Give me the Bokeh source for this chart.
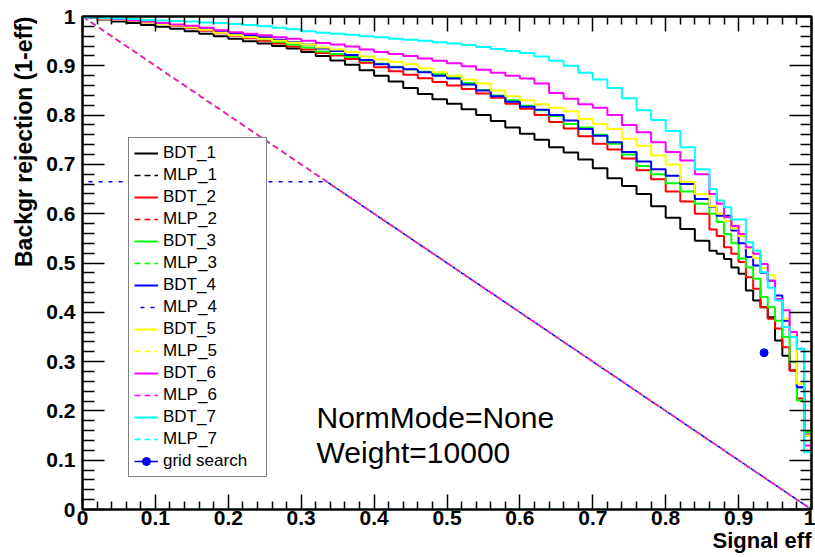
from bokeh.plotting import figure
from bokeh.models import Range1d, LinearAxis, FixedTicker, Legend, LegendItem, Label, Title
from bokeh.embed import file_html
from bokeh.resources import INLINE

# ---------------- data ----------------
BIN_LEFT = [0.00, 0.02, 0.04, 0.06, 0.08, 0.10, 0.12, 0.14, 0.16, 0.18,
            0.20, 0.22, 0.24, 0.26, 0.28, 0.30, 0.32, 0.34, 0.36, 0.38,
            0.40, 0.42, 0.44, 0.46, 0.48, 0.50, 0.52, 0.54, 0.56, 0.58,
            0.60, 0.62, 0.64, 0.66, 0.68, 0.70, 0.72, 0.74, 0.76, 0.78,
            0.80, 0.82, 0.84,
            0.86, 0.87, 0.88, 0.89, 0.90, 0.91, 0.92, 0.93, 0.94, 0.95, 0.96, 0.97, 0.98, 0.99]
X_END = 1.0

BDT_1 = [.998, .994, .990, .987, .983, .979, .975, .970, .965, .960,
         .955, .950, .945, .940, .935, .928, .920, .911, .902, .891,
         .880, .868, .855, .843, .832, .823, .812, .800, .788, .775,
         .762, .750, .735, .724, .710, .692, .672, .656, .640, .615,
         .592, .569, .545,
         .525, .519, .508, .491, .478, .444, .424, .410, .390, .343, .312, .282, .248, .157]
BDT_2 = [.998, .995, .993, .991, .988, .985, .981, .976, .971, .966,
         .961, .956, .951, .945, .939, .933, .926, .921, .914, .906,
         .897, .889, .882, .875, .867, .860, .853, .844, .835, .823,
         .813, .800, .786, .773, .757, .742, .730, .712, .688, .670,
         .645, .625, .600,
         .568, .555, .532, .519, .502, .471, .448, .410, .387, .367, .329, .282, .225, .152]
BDT_3 = [.998, .996, .994, .992, .989, .986, .983, .978, .974, .969,
         .964, .959, .954, .949, .943, .937, .929, .924, .918, .911,
         .904, .898, .893, .888, .883, .877, .865, .851, .840, .830,
         .819, .810, .798, .782, .775, .760, .742, .720, .697, .680,
         .662, .645, .620,
         .600, .583, .559, .540, .509, .491, .468, .431, .410, .383, .350, .299, .221, .157]
BDT_4 = [.998, .996, .994, .992, .989, .986, .983, .979, .975, .970,
         .966, .962, .958, .953, .948, .943, .935, .930, .922, .912,
         .903, .897, .893, .887, .880, .874, .862, .850, .838, .827,
         .817, .811, .800, .789, .772, .758, .745, .725, .706, .690,
         .677, .660, .630,
         .614, .596, .596, .566, .540, .512, .495, .480, .464, .434, .383, .350, .248, .150]
BDT_5 = [.998, .995, .993, .991, .988, .985, .982, .978, .973, .967,
         .962, .958, .955, .951, .947, .943, .937, .933, .928, .919,
         .913, .908, .903, .895, .887, .880, .872, .864, .850, .838,
         .830, .822, .815, .808, .792, .782, .772, .752, .738, .718,
         .700, .665, .640,
         .615, .600, .585, .570, .555, .530, .510, .490, .475, .424, .387, .351, .255, .150]
BDT_6 = [.998, .996, .994, .992, .990, .987, .984, .981, .977, .972,
         .968, .965, .962, .958, .955, .951, .946, .943, .939, .933,
         .928, .924, .920, .915, .910, .905, .899, .892, .886, .880,
         .874, .864, .845, .833, .822, .815, .800, .780, .765, .745,
         .725, .708, .680,
         .640, .620, .593, .575, .559, .532, .519, .498, .464, .427, .404, .360, .326, .130]
BDT_7 = [.998, .997, .996, .995, .993, .992, .991, .990, .988, .987,
         .985, .983, .980, .977, .974, .970, .967, .965, .963, .960,
         .958, .955, .953, .951, .948, .945, .942, .938, .934, .930,
         .926, .919, .910, .900, .886, .872, .855, .834, .810, .790,
         .768, .735, .690,
         .650, .627, .613, .588, .588, .542, .525, .481, .450, .424, .370, .350, .326, .116]

MLP_DIAG_X = [0.0, 1.0]
MLP_DIAG_Y = [1.0, 0.0]
MLP_4_X = [0.0, 0.335, 1.0]
MLP_4_Y = [0.665, 0.665, 0.0]
MLP_7_X = [0.0, 1.0]
MLP_7_Y = [0.0, 0.0]

GRID_X = [0.935]
GRID_Y = [0.318]

TICKS = [0.0, 0.1, 0.2, 0.3, 0.4, 0.5, 0.6, 0.7, 0.8, 0.9, 1.0]
TICK_LABELS = ["0", "0.1", "0.2", "0.3", "0.4", "0.5", "0.6", "0.7", "0.8", "0.9", "1"]
MINOR_TICKS = [0.02, 0.04, 0.06, 0.08, 0.12, 0.14, 0.16, 0.18, 0.22, 0.24, 0.26, 0.28,
               0.32, 0.34, 0.36, 0.38, 0.42, 0.44, 0.46, 0.48, 0.52, 0.54, 0.56, 0.58,
               0.62, 0.64, 0.66, 0.68, 0.72, 0.74, 0.76, 0.78, 0.82, 0.84, 0.86, 0.88,
               0.92, 0.94, 0.96, 0.98]

NAMES = ["BDT_1", "MLP_1", "BDT_2", "MLP_2", "BDT_3", "MLP_3", "BDT_4", "MLP_4",
         "BDT_5", "MLP_5", "BDT_6", "MLP_6", "BDT_7", "MLP_7", "grid search"]
COLORS = ["#000000", "#ff0000", "#00ff00", "#0000ff", "#ffff00", "#ff00ff", "#00ffff"]

FONT = "Liberation Sans"

# ---------------- figure ----------------
p = figure(width=815, height=557, output_backend="svg", toolbar_location=None,
           x_range=Range1d(0, 1), y_range=Range1d(0, 1),
           min_border_left=82, min_border_right=4, min_border_top=16, min_border_bottom=48)
p.xgrid.visible = False
p.ygrid.visible = False
p.outline_line_color = "black"
p.outline_line_width = 2
p.background_fill_color = "white"
p.border_fill_color = "white"

ticker = FixedTicker(ticks=TICKS, minor_ticks=MINOR_TICKS)
overrides = {t: s for t, s in zip(TICKS, TICK_LABELS)}
blank = {t: "" for t in TICKS}


def style_axis(ax, major_in, minor_in, labels=True):
    ax.ticker = ticker
    ax.axis_line_width = 2
    ax.major_tick_in = major_in
    ax.major_tick_out = 0
    ax.minor_tick_in = minor_in
    ax.minor_tick_out = 0
    ax.major_tick_line_width = 1.5
    ax.minor_tick_line_width = 1.5
    if labels:
        ax.major_label_overrides = overrides
        ax.major_label_text_font = FONT
        ax.major_label_text_font_style = "bold"
        ax.major_label_text_font_size = "21px"
        ax.major_label_text_color = "black"
    else:
        ax.major_label_overrides = blank
        ax.major_label_text_color = None
        ax.major_label_text_font_size = "6px"
        ax.major_label_standoff = 0


style_axis(p.xaxis[0], 15, 8)
p.xaxis[0].major_label_standoff = 1
style_axis(p.yaxis[0], 22, 12)
p.yaxis[0].major_label_standoff = 7

top_ax = LinearAxis()
style_axis(top_ax, 15, 8, labels=False)
p.add_layout(top_ax, "above")
right_ax = LinearAxis()
style_axis(right_ax, 22, 11, labels=False)
p.add_layout(right_ax, "right")

bdts = [BDT_1, BDT_2, BDT_3, BDT_4, BDT_5, BDT_6, BDT_7]
mlp_x = [MLP_DIAG_X, MLP_DIAG_X, MLP_DIAG_X, MLP_4_X, MLP_DIAG_X, MLP_DIAG_X, MLP_7_X]
mlp_y = [MLP_DIAG_Y, MLP_DIAG_Y, MLP_DIAG_Y, MLP_4_Y, MLP_DIAG_Y, MLP_DIAG_Y, MLP_7_Y]

renderers = []
for i in range(7):
    xs = BIN_LEFT + [X_END]
    ys = bdts[i] + [bdts[i][-1]]
    rb = p.step(xs, ys, mode="after", line_color=COLORS[i], line_width=2)
    if i == 3:
        rm = p.line(mlp_x[i], mlp_y[i], line_color=COLORS[i], line_width=1.5,
                    line_dash="4 6", line_dash_offset=4)
    else:
        rm = p.line(mlp_x[i], mlp_y[i], line_color=COLORS[i], line_width=1.5,
                    line_dash="6 4")
    renderers += [rb, rm]

gl = p.line(GRID_X, GRID_Y, line_color="#0000cc", line_width=1.5)
gs = p.scatter(GRID_X, GRID_Y, size=8, fill_color="#0000ff", line_color="#0000ff")
renderers.append([gl, gs])

items = []
for name, r in zip(NAMES, renderers):
    rs = r if isinstance(r, list) else [r]
    items.append(LegendItem(label=name, renderers=rs))

legend = Legend(items=items, location=(46, 32), orientation="vertical",
                border_line_color="black", border_line_width=1.5,
                background_fill_color="white", background_fill_alpha=1.0,
                label_text_font=FONT, label_text_font_size="17px",
                label_text_color="black",
                padding=5, margin=0, spacing=2,
                glyph_height=20, label_height=20, glyph_width=24,
                label_standoff=5, label_width=98)
p.add_layout(legend)

# annotation texts
p.add_layout(Label(x=0.321, y=0.187, text="NormMode=None", text_font=FONT,
                   text_font_size="30px", text_color="black", text_baseline="alphabetic"))
p.add_layout(Label(x=0.321, y=0.116, text="Weight=10000", text_font=FONT,
                   text_font_size="30px", text_color="black", text_baseline="alphabetic"))

# axis titles (ROOT style, aligned to the axis end)
p.add_layout(Title(text="Backgr rejection (1-eff)", align="right",
                   text_font=FONT, text_font_style="bold", text_font_size="23px",
                   text_color="black", standoff=14, offset=0), "left")
p.add_layout(Title(text="Signal eff", align="right",
                   text_font=FONT, text_font_style="bold", text_font_size="22px",
                   text_color="black", standoff=-3, offset=0), "below")

open("out.html", "w").write(file_html(p, INLINE))
